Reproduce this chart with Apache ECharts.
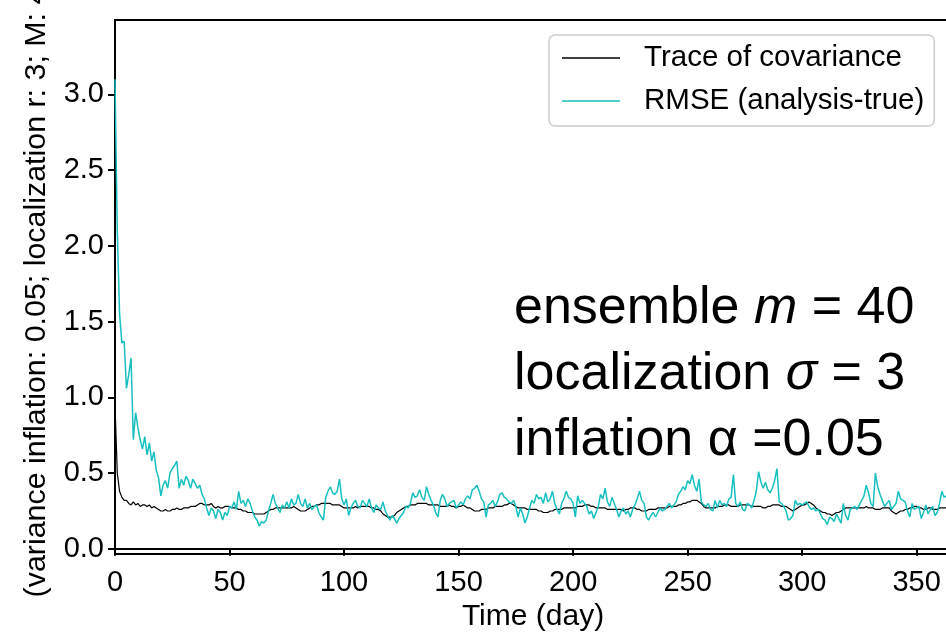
<!DOCTYPE html>
<html>
<head>
<meta charset="utf-8">
<script src="https://cdn.jsdelivr.net/npm/echarts@6/dist/echarts.min.js"></script>
<style>html,body{margin:0;padding:0;background:#fff;}#c{width:946px;height:640px;}</style>
</head>
<body>
<div id="c"></div>
<script>
// Days 0..365, one value per day
const rmse = [
3.10,2.10,1.55,1.36,1.37,1.06,1.15,1.26,0.72,0.90,
0.80,0.72,0.66,0.74,0.62,0.70,0.58,0.64,0.52,0.47,
0.35,0.42,0.45,0.40,0.50,0.53,0.55,0.58,0.40,0.46,
0.42,0.48,0.45,0.40,0.46,0.43,0.40,0.42,0.36,0.33,
0.27,0.22,0.27,0.25,0.20,0.26,0.24,0.19,0.24,0.22,
0.28,0.27,0.31,0.26,0.38,0.30,0.32,0.28,0.33,0.30,
0.25,0.21,0.19,0.15,0.18,0.17,0.19,0.25,0.30,0.36,
0.30,0.27,0.24,0.29,0.27,0.31,0.27,0.33,0.29,0.30,
0.36,0.30,0.28,0.33,0.27,0.30,0.26,0.28,0.29,0.24,
0.21,0.19,0.34,0.38,0.41,0.37,0.36,0.38,0.46,0.33,
0.29,0.33,0.22,0.27,0.30,0.32,0.28,0.27,0.32,0.30,
0.28,0.33,0.27,0.24,0.29,0.27,0.26,0.31,0.25,0.22,
0.19,0.22,0.20,0.17,0.20,0.22,0.24,0.28,0.27,0.30,
0.37,0.34,0.35,0.39,0.34,0.32,0.41,0.36,0.32,0.29,
0.24,0.21,0.32,0.36,0.33,0.28,0.30,0.31,0.32,0.27,
0.29,0.31,0.29,0.33,0.35,0.33,0.39,0.40,0.42,0.38,
0.33,0.31,0.21,0.29,0.30,0.32,0.28,0.31,0.36,0.37,
0.34,0.33,0.31,0.30,0.32,0.28,0.21,0.27,0.23,0.17,
0.21,0.27,0.32,0.30,0.36,0.33,0.34,0.30,0.37,0.31,
0.33,0.38,0.30,0.26,0.23,0.30,0.33,0.38,0.34,0.33,
0.30,0.21,0.35,0.30,0.32,0.30,0.28,0.23,0.25,0.20,
0.24,0.28,0.36,0.33,0.40,0.31,0.28,0.34,0.30,0.26,
0.21,0.25,0.27,0.23,0.25,0.21,0.26,0.29,0.33,0.38,
0.32,0.30,0.21,0.19,0.22,0.24,0.21,0.24,0.27,0.25,
0.26,0.28,0.30,0.27,0.29,0.31,0.36,0.38,0.41,0.39,
0.45,0.43,0.49,0.42,0.38,0.46,0.31,0.29,0.28,0.30,
0.26,0.25,0.32,0.27,0.32,0.29,0.30,0.28,0.33,0.34,
0.49,0.30,0.28,0.31,0.26,0.25,0.30,0.29,0.27,0.32,
0.38,0.51,0.44,0.40,0.44,0.39,0.37,0.40,0.45,0.53,
0.31,0.30,0.28,0.25,0.19,0.20,0.22,0.32,0.29,0.30,
0.29,0.30,0.31,0.28,0.26,0.27,0.25,0.26,0.23,0.20,
0.19,0.16,0.21,0.20,0.18,0.23,0.20,0.17,0.30,0.22,
0.19,0.26,0.27,0.28,0.26,0.29,0.32,0.35,0.42,0.37,
0.30,0.28,0.50,0.41,0.36,0.32,0.28,0.30,0.32,0.26,
0.28,0.30,0.38,0.33,0.32,0.31,0.25,0.21,0.30,0.26,
0.27,0.28,0.20,0.24,0.29,0.23,0.26,0.28,0.22,0.24,
0.30,0.38,0.34,0.35,0.37,0.33
];
const traceCov = [
0.95,0.50,0.38,0.34,0.32,0.32,0.30,0.29,0.31,0.29,
0.30,0.28,0.29,0.29,0.28,0.29,0.27,0.28,0.27,0.26,
0.25,0.25,0.26,0.25,0.25,0.26,0.26,0.27,0.26,0.26,
0.27,0.27,0.27,0.28,0.28,0.28,0.29,0.30,0.30,0.29,
0.29,0.29,0.30,0.28,0.27,0.28,0.27,0.27,0.28,0.28,
0.28,0.27,0.27,0.27,0.26,0.26,0.25,0.25,0.24,0.24,
0.24,0.23,0.23,0.23,0.23,0.23,0.24,0.25,0.26,0.26,
0.27,0.27,0.27,0.27,0.27,0.27,0.27,0.27,0.28,0.27,
0.26,0.25,0.25,0.25,0.26,0.27,0.28,0.28,0.29,0.29,
0.30,0.30,0.30,0.30,0.30,0.29,0.29,0.29,0.29,0.28,
0.27,0.27,0.27,0.27,0.27,0.28,0.27,0.28,0.28,0.28,
0.28,0.28,0.27,0.27,0.26,0.26,0.25,0.23,0.22,0.21,
0.21,0.21,0.22,0.24,0.25,0.26,0.27,0.28,0.28,0.29,
0.29,0.29,0.30,0.30,0.30,0.30,0.30,0.29,0.29,0.29,
0.29,0.29,0.28,0.28,0.28,0.28,0.29,0.28,0.28,0.27,
0.28,0.28,0.29,0.28,0.27,0.27,0.26,0.25,0.25,0.25,
0.26,0.26,0.26,0.27,0.27,0.27,0.28,0.28,0.28,0.28,
0.29,0.29,0.30,0.30,0.29,0.28,0.27,0.27,0.27,0.27,
0.26,0.26,0.26,0.26,0.26,0.25,0.25,0.24,0.24,0.24,
0.25,0.25,0.26,0.26,0.26,0.26,0.27,0.27,0.27,0.27,
0.27,0.27,0.28,0.28,0.28,0.29,0.29,0.29,0.28,0.28,
0.27,0.27,0.27,0.27,0.27,0.26,0.26,0.26,0.26,0.26,
0.26,0.26,0.25,0.26,0.26,0.27,0.27,0.27,0.26,0.26,
0.25,0.25,0.25,0.26,0.26,0.26,0.26,0.27,0.27,0.27,
0.27,0.27,0.28,0.28,0.28,0.28,0.29,0.29,0.30,0.30,
0.31,0.31,0.32,0.32,0.32,0.31,0.30,0.28,0.27,0.27,
0.27,0.27,0.27,0.28,0.28,0.28,0.29,0.29,0.29,0.28,
0.28,0.28,0.28,0.29,0.29,0.29,0.29,0.29,0.28,0.28,
0.28,0.28,0.28,0.27,0.27,0.28,0.28,0.29,0.29,0.29,
0.29,0.28,0.28,0.28,0.27,0.26,0.25,0.26,0.27,0.28,
0.29,0.29,0.30,0.31,0.30,0.29,0.27,0.26,0.25,0.24,
0.24,0.23,0.23,0.22,0.23,0.24,0.24,0.25,0.26,0.27,
0.27,0.27,0.27,0.27,0.27,0.27,0.27,0.27,0.28,0.27,
0.27,0.27,0.26,0.26,0.26,0.27,0.27,0.27,0.27,0.25,
0.24,0.23,0.24,0.25,0.25,0.26,0.26,0.27,0.27,0.28,
0.28,0.27,0.27,0.26,0.26,0.27,0.27,0.26,0.26,0.26,
0.27,0.27,0.27,0.27,0.26,0.27
];
const yTicks = [0, 0.5, 1.0, 1.5, 2.0, 2.5, 3.0];
const seriesNames = ['Trace of covariance', 'RMSE (analysis-true)'];
const xName = 'Time (day)';
const yName = '(variance inflation: 0.05; localization r: 3; M: 40)';
const note1 = ['ensemble ', 'm', ' = 40'];
const note2 = ['localization ', 'σ', ' = 3'];
const note3 = 'inflation α =0.05';

const FONT = 'Liberation Sans, Arial, Helvetica, sans-serif';
const chart = echarts.init(document.getElementById('c'), null, {renderer: 'canvas'});

const richBase = {
  a: {fontFamily: FONT, fontSize: 52, fill: '#000', color: '#000'},
  i: {fontFamily: FONT, fontSize: 52, fontStyle: 'italic', fill: '#000', color: '#000'}
};

chart.setOption({
  animation: false,
  backgroundColor: '#fff',
  grid: {left: 115, top: 20, right: -5, bottom: 86, show: true, borderColor: '#000', borderWidth: 2,
    backgroundColor: 'transparent', containLabel: false, outerBoundsMode: 'none'},
  legend: {
    left: 549, top: 35,
    orient: 'vertical',
    icon: 'rect',
    itemWidth: 58, itemHeight: 1.5, itemGap: 13,
    padding: [8, 10, 10, 13],
    borderColor: '#cccccc', borderWidth: 1.5, borderRadius: 6,
    backgroundColor: '#ffffff',
    textStyle: {fontFamily: FONT, fontSize: 29.5, color: '#000', lineHeight: 30, padding: [0, 0, 0, 19]},
    data: seriesNames
  },
  xAxis: {
    type: 'value', min: 0, max: 365, interval: 50,
    name: xName, nameLocation: 'middle', nameGap: 45,
    nameTextStyle: {fontFamily: FONT, fontSize: 30, color: '#000'},
    axisLine: {show: true, lineStyle: {color: '#000', width: 2}},
    axisTick: {show: true, length: 7, lineStyle: {color: '#000', width: 2}},
    axisLabel: {fontFamily: FONT, fontSize: 29, color: '#000', margin: 14, showMaxLabel: false},
    splitLine: {show: false}
  },
  yAxis: {
    type: 'value', min: -0.034, max: 3.491,
    name: yName, nameLocation: 'middle', nameGap: 63, nameRotate: 90,
    nameTextStyle: {fontFamily: FONT, fontSize: 30.4, color: '#000', padding: [0, 0, 0, 16]},
    axisLine: {show: true, lineStyle: {color: '#000', width: 2}},
    axisTick: {show: true, length: 7, lineStyle: {color: '#000', width: 2}, customValues: yTicks},
    axisLabel: {fontFamily: FONT, fontSize: 29, color: '#000', margin: 11, customValues: yTicks,
      formatter: v => Number(v).toFixed(1)},
    splitLine: {show: false}
  },
  series: [
    {name: seriesNames[0], type: 'line', symbol: 'none', color: '#000000',
      lineStyle: {color: '#000000', width: 1.2},
      data: traceCov.map((v, i) => [i, v])},
    {name: seriesNames[1], type: 'line', symbol: 'none', color: '#17bfbf',
      lineStyle: {color: '#17bfbf', width: 1.5},
      data: rmse.map((v, i) => [i, v])}
  ],
  graphic: [
    {type: 'text', left: 514, top: 283, z: 100,
      style: {text: '{a|' + note1[0] + '}{i|' + note1[1] + '}{a|' + note1[2] + '}', rich: richBase, fill: '#000'}},
    {type: 'text', left: 514, top: 349, z: 100,
      style: {text: '{a|' + note2[0] + '}{i|' + note2[1] + '}{a|' + note2[2] + '}', rich: richBase, fill: '#000'}},
    {type: 'text', left: 514, top: 415, z: 100,
      style: {text: note3, font: '52px ' + FONT, fill: '#000'}}
  ]
});
</script>
</body>
</html>
